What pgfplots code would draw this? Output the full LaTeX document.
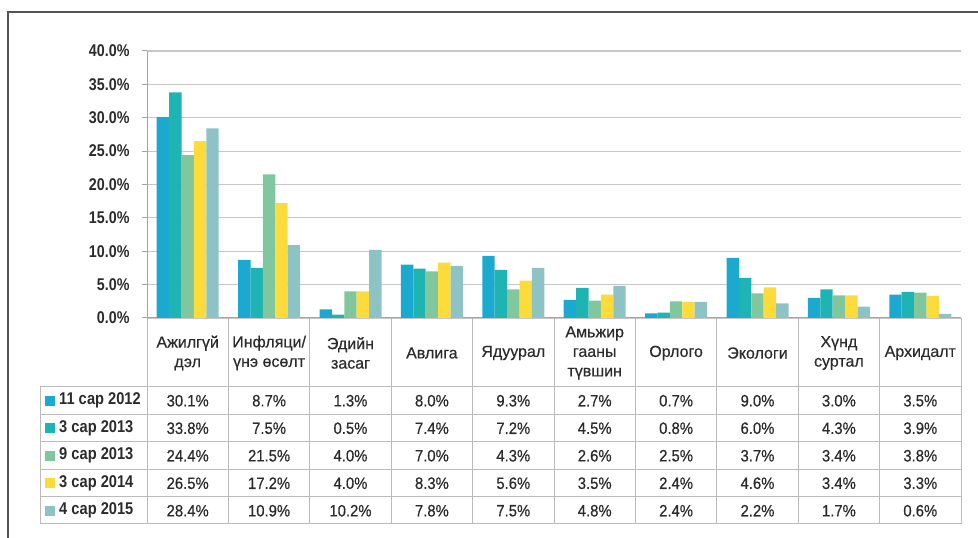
\documentclass[border=0pt]{standalone}
\usepackage{pgfplots}
\pgfplotsset{compat=1.18}
\usepackage{fontspec}
\setmainfont{Liberation Sans}
\newfontfamily\tickfont{Liberation Sans}[FakeStretch=0.84]
\newfontfamily\valfont{Liberation Sans}[FakeStretch=0.9, FakeBold=0.5]
\newfontfamily\headfont{Liberation Sans}[FakeBold=0.5]
\newfontfamily\legfont{Liberation Sans}[FakeStretch=0.86]
\definecolor{cA}{HTML}{1BA9CF}
\definecolor{cB}{HTML}{1FB4B4}
\definecolor{cC}{HTML}{80C79E}
\definecolor{cD}{HTML}{FDDB3A}
\definecolor{cE}{HTML}{8EC3C6}
\definecolor{txt}{HTML}{2B2B2B}
\definecolor{gridgray}{HTML}{CBC6C6}
\definecolor{linegray}{HTML}{A8A4A4}
\definecolor{tblgray}{HTML}{BDBABA}
\definecolor{frame}{HTML}{555555}
\begin{document}
\begin{tikzpicture}[x=1pt,y=1pt]
\path[use as bounding box] (0,0) rectangle (978,538);
\draw[color=frame, line width=1.5pt] (8,0) -- (8,526) -- (978,526);
\begin{axis}[
  at={(147pt,220pt)}, anchor=south west,
  width=814pt, height=267pt, scale only axis,
  xmin=-0.5, xmax=9.5, ymin=0, ymax=40,
  axis lines*=left,
  axis line style={-, draw=linegray, line width=1pt},
  xtick=\empty,
  ytick={0,5,10,15,20,25,30,35,40},
  yticklabels={0.0\%,5.0\%,10.0\%,15.0\%,20.0\%,25.0\%,30.0\%,35.0\%,40.0\%},
  tick align=outside, major tick length=5pt,
  tick style={draw=linegray, line width=1pt},
  ymajorgrids, major grid style={draw=gridgray, line width=1.2pt},
  yticklabel style={font=\tickfont\fontsize{17}{17}\selectfont\bfseries, text=txt, xshift=-9pt},
  ybar=0pt, bar width=12.4pt,
  clip=false,
]
\addplot[fill=cA, draw=none] coordinates {(0,30.1) (1,8.7) (2,1.3) (3,8.0) (4,9.3) (5,2.7) (6,0.7) (7,9.0) (8,3.0) (9,3.5)};
\addplot[fill=cB, draw=none] coordinates {(0,33.8) (1,7.5) (2,0.5) (3,7.4) (4,7.2) (5,4.5) (6,0.8) (7,6.0) (8,4.3) (9,3.9)};
\addplot[fill=cC, draw=none] coordinates {(0,24.4) (1,21.5) (2,4.0) (3,7.0) (4,4.3) (5,2.6) (6,2.5) (7,3.7) (8,3.4) (9,3.8)};
\addplot[fill=cD, draw=none] coordinates {(0,26.5) (1,17.2) (2,4.0) (3,8.3) (4,5.6) (5,3.5) (6,2.4) (7,4.6) (8,3.4) (9,3.3)};
\addplot[fill=cE, draw=none] coordinates {(0,28.4) (1,10.9) (2,10.2) (3,7.8) (4,7.5) (5,4.8) (6,2.4) (7,2.2) (8,1.7) (9,0.6)};
\end{axis}
% table grid
\foreach \k in {0,...,10} \draw[tblgray, line width=1pt] ({147+81.4*\k},220) -- ({147+81.4*\k},14);
\foreach \yy in {151,123.5,96,68.5,41,14} \draw[tblgray, line width=1pt] (40,\yy) -- (961,\yy);
\draw[tblgray, line width=1pt] (40,151) -- (40,14);
% header
\foreach \t [count=\i from 0] in {{Ажилгүй\\дэл},{Инфляци/\\үнэ өсөлт},{Эдийн\\засаг},{Авлига},{Ядуурал},{Амьжир\\гааны\\түвшин},{Орлого},{Экологи},{Хүнд\\суртал},{Архидалт}}
  \node[align=center, font=\headfont\fontsize{16}{19.5}\selectfont, text=txt] at ({147+81.4*(\i+0.5)},185) {\t};
% values
\foreach \v [count=\i from 0] in {30.1,8.7,1.3,8.0,9.3,2.7,0.7,9.0,3.0,3.5}
  \node[font=\valfont\fontsize{16.5}{16.5}\selectfont, text=txt] at ({147+81.4*(\i+0.5)},137.25) {\v\%};
\foreach \v [count=\i from 0] in {33.8,7.5,0.5,7.4,7.2,4.5,0.8,6.0,4.3,3.9}
  \node[font=\valfont\fontsize{16.5}{16.5}\selectfont, text=txt] at ({147+81.4*(\i+0.5)},109.75) {\v\%};
\foreach \v [count=\i from 0] in {24.4,21.5,4.0,7.0,4.3,2.6,2.5,3.7,3.4,3.8}
  \node[font=\valfont\fontsize{16.5}{16.5}\selectfont, text=txt] at ({147+81.4*(\i+0.5)},82.25) {\v\%};
\foreach \v [count=\i from 0] in {26.5,17.2,4.0,8.3,5.6,3.5,2.4,4.6,3.4,3.3}
  \node[font=\valfont\fontsize{16.5}{16.5}\selectfont, text=txt] at ({147+81.4*(\i+0.5)},54.75) {\v\%};
\foreach \v [count=\i from 0] in {28.4,10.9,10.2,7.8,7.5,4.8,2.4,2.2,1.7,0.6}
  \node[font=\valfont\fontsize{16.5}{16.5}\selectfont, text=txt] at ({147+81.4*(\i+0.5)},27.25) {\v\%};
% legend column
\foreach \lab/\col/\yc in {11 сар 2012/cA/137.25, 3 сар 2013/cB/109.75, 9 сар 2013/cC/82.25, 3 сар 2014/cD/54.75, 4 сар 2015/cE/27.25} {
  \fill[\col] (45,{\yc-5}) rectangle (55,{\yc+5});
  \node[anchor=west, inner sep=0pt, font=\legfont\fontsize{17}{17}\selectfont\bfseries, text=txt] at (59,\yc) {\lab};
}
\end{tikzpicture}
\end{document}
